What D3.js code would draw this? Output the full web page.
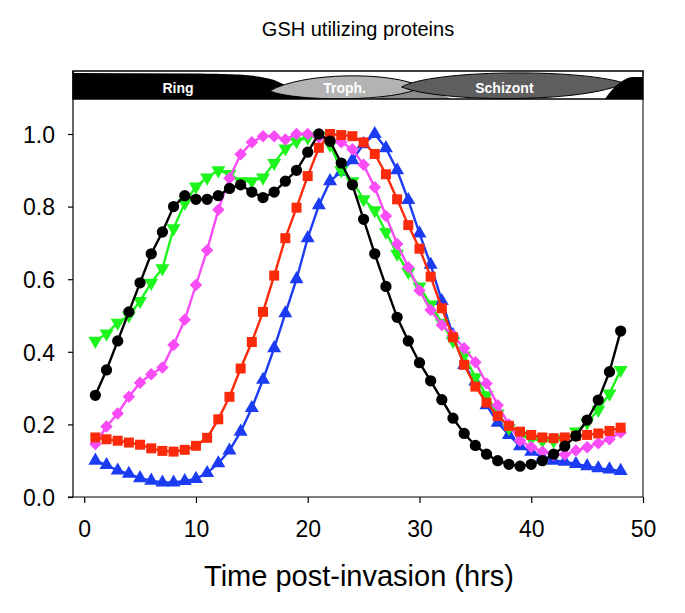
<!DOCTYPE html>
<html>
<head>
<meta charset="utf-8">
<script src="https://cdn.jsdelivr.net/npm/d3@7"></script>
<style>
  html, body { margin: 0; padding: 0; background: #fff; }
  svg { display: block; font-family: "Liberation Sans", Arial, sans-serif; }
</style>
</head>
<body>
<svg id="chart" width="685" height="613"></svg>
<script>
// ---------- data ----------
const hours = [1,2,3,4,5,6,7,8,9,10,11,12,13,14,15,16,17,18,19,20,21,22,23,24,25,26,27,28,29,30,31,32,33,34,35,36,37,38,39,40,41,42,43,44,45,46,47,48];

const seriesBlue = [0.100,0.088,0.073,0.064,0.052,0.045,0.040,0.040,0.044,0.050,
                    0.066,0.093,0.128,0.180,0.245,0.323,0.410,0.506,0.600,0.713,
                    0.804,0.870,0.896,0.928,0.972,1.000,0.961,0.900,0.818,0.726,
                    0.640,0.540,0.446,0.364,0.318,0.253,0.205,0.171,0.140,0.125,
                    0.110,0.100,0.097,0.091,0.085,0.079,0.076,0.072];

const seriesGreen = [0.430,0.450,0.480,0.500,0.540,0.590,0.630,0.740,0.810,0.855,
                     0.880,0.900,0.890,0.870,0.870,0.880,0.920,0.960,0.980,0.990,
                     0.995,0.970,0.900,0.870,0.820,0.790,0.730,0.670,0.620,0.580,
                     0.530,0.480,0.430,0.390,0.330,0.280,0.230,0.190,0.170,0.160,
                     0.155,0.155,0.160,0.180,0.205,0.240,0.285,0.350];

const seriesPink = [0.146,0.194,0.230,0.276,0.315,0.338,0.357,0.419,0.488,0.584,
                    0.680,0.791,0.878,0.944,0.977,0.994,0.994,0.985,1.000,1.000,
                    0.990,0.985,0.977,0.958,0.915,0.853,0.774,0.697,0.633,0.569,
                    0.515,0.474,0.445,0.410,0.371,0.313,0.253,0.200,0.155,0.138,
                    0.125,0.116,0.117,0.128,0.137,0.148,0.159,0.178];

const seriesRed = [0.164,0.159,0.155,0.150,0.144,0.134,0.127,0.125,0.130,0.141,
                   0.163,0.214,0.276,0.354,0.427,0.510,0.610,0.713,0.797,0.884,
                   0.962,1.000,0.997,0.994,0.977,0.945,0.889,0.820,0.749,0.684,
                   0.607,0.520,0.440,0.364,0.304,0.260,0.223,0.196,0.180,0.171,
                   0.164,0.162,0.164,0.168,0.171,0.175,0.182,0.191];

const seriesBlack = [0.280,0.350,0.430,0.510,0.590,0.670,0.730,0.800,0.830,0.820,
                     0.820,0.830,0.850,0.860,0.840,0.825,0.840,0.870,0.900,0.950,
                     1.000,0.980,0.920,0.860,0.765,0.670,0.580,0.495,0.430,0.370,
                     0.320,0.268,0.217,0.175,0.142,0.118,0.100,0.090,0.085,0.090,
                     0.100,0.118,0.140,0.168,0.212,0.267,0.345,0.457];

const xTicks = [0,10,20,30,40,50];
const yTicks = [0.0,0.2,0.4,0.6,0.8,1.0];

// stage band (hours)
const stageNames = ["Ring","Troph.","Schizont"];
const stageCenters = [8.4, 23.3, 37.6];

const titleText = "GSH utilizing proteins";
const xLabel = "Time post-invasion (hrs)";

// ---------- layout ----------
const svg = d3.select("#chart");
const L = 73, R = 643, B = 497, T = 99, HT = 71;

const x = d3.scaleLinear().domain([-1, 50]).range([L, R]);
const y = d3.scaleLinear().domain([0, 1.0964]).range([B, T]);

// title
svg.append("text").attr("x", 358).attr("y", 36).attr("text-anchor", "middle")
  .attr("font-size", 20).attr("fill", "#000").text(titleText);

// ---------- stage header ----------
const hdr = svg.append("g");
hdr.append("clipPath").attr("id", "hclip").append("rect")
  .attr("x", L).attr("y", HT).attr("width", R - L).attr("height", T - HT);
const hg = hdr.append("g").attr("clip-path", "url(#hclip)");
hg.append("rect").attr("x", L).attr("y", HT).attr("width", R - L).attr("height", T - HT).attr("fill", "#fff");
// ring black
hg.append("path").attr("fill", "#000").attr("d",
  `M${x(-1)},${HT+2} L${x(10)},${HT+2.5} C${x(14)},${HT+3} ${x(15.5)},${HT+4} ${x(17)},${HT+9}
   C${x(18.5)},${HT+16} ${x(19.5)},${T-4} ${x(21)},${T} L${x(-1)},${T} Z`);
// middle gray under crossing
hg.append("path").attr("fill", "#8c8c8c").attr("d",
  `M${x(26)},${T} L${x(29.3)},${HT+14} L${x(33)},${T} Z`);
// troph lens
hg.append("path").attr("fill", "#b3b3b3").attr("stroke", "#000").attr("stroke-width", 1)
  .attr("d", `M${x(16.6)},${HT+20} C${x(19.5)},${HT+1} ${x(27.5)},${HT} ${x(30.2)},${HT+16}
     C${x(28)},${T+3} ${x(19)},${T+3} ${x(16.6)},${HT+20} Z`);
// schizont lens
hg.append("path").attr("fill", "#5e5e5e").attr("stroke", "#000").attr("stroke-width", 1)
  .attr("d", `M${x(28.4)},${HT+16} C${x(31)},${HT-1} ${x(44)},${HT-3} ${x(48.3)},${HT+12}
     C${x(45)},${T+4} ${x(32)},${T+4} ${x(28.4)},${HT+16} Z`);
// right black
hg.append("path").attr("fill", "#000").attr("d",
  `M${x(46.6)},${T} C${x(47.2)},${HT+18} ${x(48)},${HT+8} ${x(49)},${HT+6} L${x(50)},${HT+6} L${x(50)},${T} Z`);
hg.selectAll("text.stage").data(stageNames).join("text")
  .attr("class", "stage")
  .attr("x", (d, i) => x(stageCenters[i])).attr("y", HT + 22)
  .attr("text-anchor", "middle").attr("font-size", 14).attr("font-weight", "bold")
  .attr("fill", "#fff").text(d => d);
hdr.append("rect").attr("x", L).attr("y", HT).attr("width", R - L).attr("height", T - HT)
  .attr("fill", "none").attr("stroke", "#000").attr("stroke-width", 1.5);

// ---------- frame & axes ----------
svg.append("line").attr("x1", R).attr("x2", R).attr("y1", T).attr("y2", B)
  .attr("stroke", "#000").attr("stroke-width", 1);
svg.append("line").attr("x1", L).attr("x2", L).attr("y1", HT).attr("y2", B)
  .attr("stroke", "#000").attr("stroke-width", 1.2);

const xAxis = svg.append("g").attr("transform", `translate(0,${B})`)
  .call(d3.axisBottom(x).tickValues(xTicks).tickSize(6).tickSizeOuter(0).tickFormat(d3.format("d")));
xAxis.select(".domain").attr("d", `M${L-5},0H${R}`).attr("stroke-width", 1.2);
xAxis.selectAll(".tick line").attr("stroke-width", 1.2);
xAxis.selectAll(".tick text").attr("font-size", 23).attr("font-family", "Liberation Sans, Arial, sans-serif")
  .attr("fill", "#000").attr("y", 40).attr("dy", 0);

const yAxis = svg.append("g").attr("transform", `translate(${L},0)`)
  .call(d3.axisLeft(y).tickValues(yTicks).tickSize(5).tickSizeOuter(0).tickFormat(d3.format(".1f")));
yAxis.select(".domain").remove();
yAxis.selectAll(".tick line").attr("stroke-width", 1.2);
yAxis.selectAll(".tick text").attr("font-size", 23).attr("font-family", "Liberation Sans, Arial, sans-serif")
  .attr("fill", "#000").attr("x", -18).attr("dy", "0.36em");

svg.append("text").attr("x", 359).attr("y", 586).attr("text-anchor", "middle")
  .attr("font-size", 29).attr("fill", "#000").text(xLabel);

// ---------- series ----------
const series = [
  { values: seriesBlue,  color: "#1b3cf2", sym: d3.symbolTriangle, size: 85, rot: 0 },
  { values: seriesGreen, color: "#1df51d", sym: d3.symbolTriangle, size: 85, rot: 180 },
  { values: seriesPink,  color: "#fa4cf6", sym: d3.symbolSquare,   size: 78, rot: 45 },
  { values: seriesRed,   color: "#fa2a0a", sym: d3.symbolSquare,   size: 100, rot: 0 },
  { values: seriesBlack, color: "#000000", sym: d3.symbolCircle,   size: 100, rot: 0 }
];

const line = d3.line().x(d => x(d[0])).y(d => y(d[1]));
series.forEach(s => {
  const pts = hours.map((h, i) => [h, s.values[i]]);
  const g = svg.append("g");
  g.append("path").datum(pts).attr("d", line).attr("fill", "none")
    .attr("stroke", s.color).attr("stroke-width", 2.4);
  g.selectAll("path.m").data(pts).join("path").attr("class", "m")
    .attr("d", d3.symbol().type(s.sym).size(s.size))
    .attr("transform", d => `translate(${x(d[0])},${y(d[1])}) rotate(${s.rot})`)
    .attr("fill", s.color);
});
</script>
</body>
</html>
